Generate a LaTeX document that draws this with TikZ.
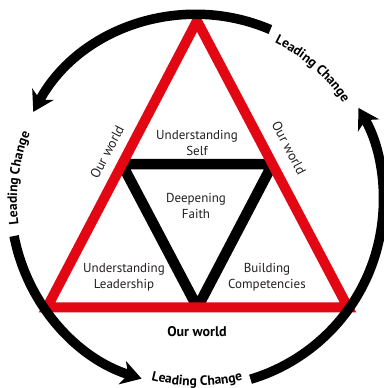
\documentclass[tikz,border=0pt]{standalone}
\usepackage{fontspec}
\setmainfont{PT Sans}
\usetikzlibrary{arrows.meta,decorations.text,calc}
\definecolor{tred}{RGB}{227,6,19}
\definecolor{ink}{RGB}{35,31,32}
\newcommand\lcfont{\bfseries\fontsize{13.5}{15}\selectfont}
\begin{document}
\begin{tikzpicture}[x=1pt,y=1pt,
  ring/.style={line width=9.5pt, draw=black},
  tip/.style={-{Stealth[length=20pt,width=24pt,inset=6pt]}},
  redtri/.style={line width=10pt, draw=tred, line join=miter},
  blktri/.style={line width=10.5pt, draw=black, line join=miter},
  lbl/.style={text=ink, align=center, font=\fontsize{13}{15.5}\selectfont, inner sep=0pt},
  blbl/.style={text=black, align=center, font=\bfseries\fontsize{14}{16}\selectfont, inner sep=0pt},
  curved/.style={decorate, decoration={text along path, text align=center, text={|\lcfont|Leading Change}}}
]
\useasboundingbox (0,0) rectangle (383,388);
% red triangle vertices
\coordinate (A) at (197,367);
\coordinate (BL) at (47,80.5);
\coordinate (BR) at (348,80.5);
\coordinate (ML) at ($(A)!0.5!(BL)$);
\coordinate (MR) at ($(A)!0.5!(BR)$);
\coordinate (MB) at ($(BL)!0.5!(BR)$);
% black inverted triangle, clipped to inside of red triangle
\begin{scope}
  \clip (A) -- (BL) -- (BR) -- cycle;
  \draw[blktri] (ML) -- (MR) -- (MB) -- cycle;
\end{scope}
\draw[redtri] (A) -- (BL) -- (BR) -- cycle;
% labels
\node[lbl] (us) at (197,245) {Understanding\\Self};
\node[lbl] (df) at (196,182) {Deepening\\Faith};
\node[lbl] (ul) at (124,111) {Understanding\\Leadership};
\node[lbl] (bc) at (267,111) {Building\\Competencies};
\node[blbl] (ow) at (197,56) {Our world};
\node[lbl, font=\fontsize{13.5}{16}\selectfont, rotate=62.3] (owl) at (107,236) {Our world};
\node[lbl, font=\fontsize{13.5}{16}\selectfont, rotate=-62.3] (owr) at (289,240) {Our world};
% outer ring
\coordinate (c) at (197,187.2);
\draw[ring, tip] ($(c)+(66.8:186.3)$) arc[start angle=66.8, end angle=151.5, radius=186.3];
\draw[ring, tip] ($(c)+(190.9:186.3)$) arc[start angle=190.9, end angle=252.7, radius=186.3];
\draw[ring, tip] ($(c)+(286.7:186.3)$) arc[start angle=286.7, end angle=389.9, radius=186.3];
% curved labels
\path[curved] ($(c)+(72:176)$) arc[start angle=72, end angle=25.6, radius=176];
\path[curved] ($(c)+(196:180)$) arc[start angle=196, end angle=149.6, radius=180];
\path[curved] ($(c)+(246:185)$) arc[start angle=246, end angle=294, radius=185];
\end{tikzpicture}
\end{document}
